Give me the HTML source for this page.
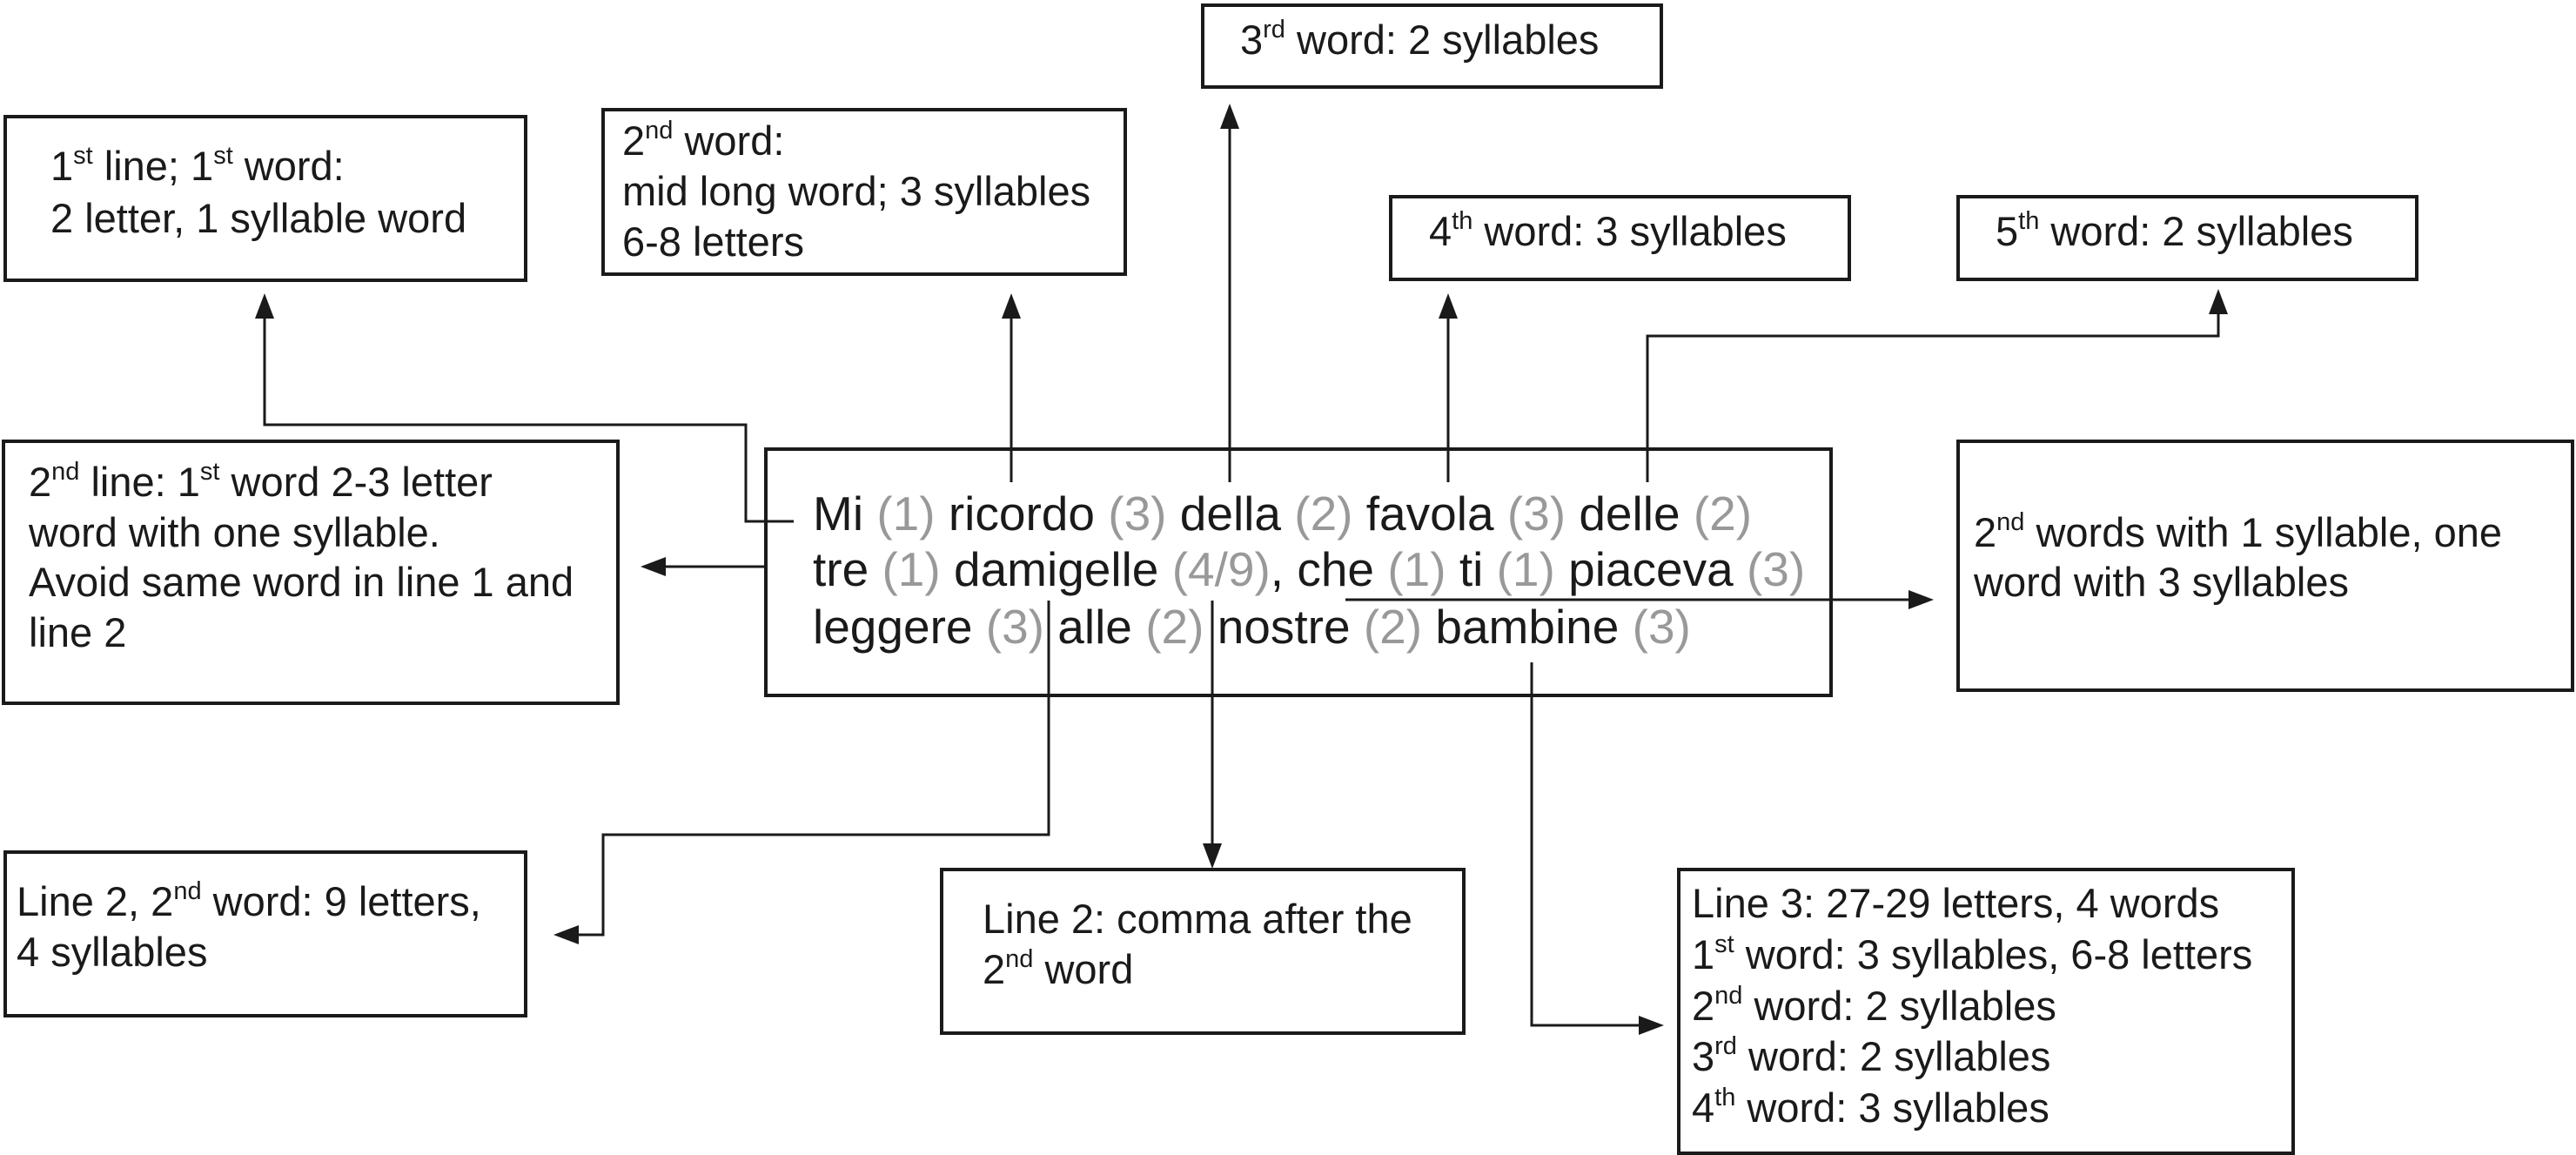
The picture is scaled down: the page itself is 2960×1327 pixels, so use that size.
<!DOCTYPE html>
<html><head><meta charset="utf-8"><style>html,body{margin:0;padding:0;background:#fff}svg{display:block}text{font-family:"Liberation Sans",sans-serif;fill:#1a1a1a}</style></head><body>
<svg width="2960" height="1327" viewBox="0 0 2960 1327" xmlns="http://www.w3.org/2000/svg">
<g fill="none" stroke="#1a1a1a" stroke-width="4">
<rect x="6" y="134" width="598" height="188"/>
<rect x="693" y="126" width="600" height="189"/>
<rect x="1382" y="6" width="527" height="94"/>
<rect x="1598" y="226" width="527" height="95"/>
<rect x="2250" y="226" width="527" height="95"/>
<rect x="4" y="507" width="706" height="301"/>
<rect x="880" y="516" width="1224" height="283"/>
<rect x="2250" y="507" width="706" height="286"/>
<rect x="6" y="979" width="598" height="188"/>
<rect x="1082" y="999" width="600" height="188"/>
<rect x="1929" y="999" width="706" height="326"/>
</g>
<g fill="none" stroke="#1a1a1a" stroke-width="3">
<polyline points="912,599 857,599 857,488 304,488 304,360"/>
<line x1="1162" y1="554" x2="1162" y2="360"/>
<line x1="1413" y1="554" x2="1413" y2="142"/>
<line x1="1664" y1="554" x2="1664" y2="360"/>
<polyline points="1893,554 1893,386 2549,386 2549,355"/>
<line x1="880" y1="651" x2="760" y2="651"/>
<line x1="1546" y1="689" x2="2198" y2="689"/>
<polyline points="1205,690 1205,959 693,959 693,1074 660,1074"/>
<line x1="1393" y1="690" x2="1393" y2="975"/>
<polyline points="1760,761 1760,1178 1888,1178"/>
</g>
<g fill="#1a1a1a">
<polygon points="304,337 293,366 315,366"/>
<polygon points="1162,337 1151,366 1173,366"/>
<polygon points="1413,119 1402,148 1424,148"/>
<polygon points="1664,337 1653,366 1675,366"/>
<polygon points="2549,332 2538,361 2560,361"/>
<polygon points="736,651 765,640 765,662"/>
<polygon points="2222,689 2193,678 2193,700"/>
<polygon points="636,1074 665,1063 665,1085"/>
<polygon points="1393,998 1382,969 1404,969"/>
<polygon points="1912,1178 1883,1167 1883,1189"/>
</g>
<g font-size="47">
<text x="58" y="207">1<tspan font-size="29" dy="-19">st</tspan><tspan dy="19"> line; 1</tspan><tspan font-size="29" dy="-19">st</tspan><tspan dy="19"> word:</tspan></text>
<text x="58" y="267">2 letter, 1 syllable word</text>
<text x="715" y="178">2<tspan font-size="29" dy="-19">nd</tspan><tspan dy="19"> word:</tspan></text>
<text x="715" y="236">mid long word; 3 syllables</text>
<text x="715" y="294">6-8 letters</text>
<text x="1425" y="62">3<tspan font-size="29" dy="-19">rd</tspan><tspan dy="19"> word: 2 syllables</tspan></text>
<text x="1642" y="282">4<tspan font-size="29" dy="-19">th</tspan><tspan dy="19"> word: 3 syllables</tspan></text>
<text x="2293" y="282">5<tspan font-size="29" dy="-19">th</tspan><tspan dy="19"> word: 2 syllables</tspan></text>
<text x="33" y="570">2<tspan font-size="29" dy="-19">nd</tspan><tspan dy="19"> line: 1</tspan><tspan font-size="29" dy="-19">st</tspan><tspan dy="19"> word 2-3 letter</tspan></text>
<text x="33" y="628">word with one syllable.</text>
<text x="33" y="685">Avoid same word in line 1 and</text>
<text x="33" y="743">line 2</text>
<text x="2268" y="628">2<tspan font-size="29" dy="-19">nd</tspan><tspan dy="19"> words with 1 syllable, one</tspan></text>
<text x="2268" y="685">word with 3 syllables</text>
<text x="19" y="1052">Line 2, 2<tspan font-size="29" dy="-19">nd</tspan><tspan dy="19"> word: 9 letters,</tspan></text>
<text x="19" y="1110">4 syllables</text>
<text x="1129" y="1072">Line 2: comma after the</text>
<text x="1129" y="1130">2<tspan font-size="29" dy="-19">nd</tspan><tspan dy="19"> word</tspan></text>
<text x="1944" y="1054">Line 3: 27-29 letters, 4 words</text>
<text x="1944" y="1113">1<tspan font-size="29" dy="-19">st</tspan><tspan dy="19"> word: 3 syllables, 6-8 letters</tspan></text>
<text x="1944" y="1172">2<tspan font-size="29" dy="-19">nd</tspan><tspan dy="19"> word: 2 syllables</tspan></text>
<text x="1944" y="1230">3<tspan font-size="29" dy="-19">rd</tspan><tspan dy="19"> word: 2 syllables</tspan></text>
<text x="1944" y="1289">4<tspan font-size="29" dy="-19">th</tspan><tspan dy="19"> word: 3 syllables</tspan></text>
</g>
<g font-size="55">
<text x="934" y="609">Mi <tspan fill="#999">(1)</tspan> ricordo <tspan fill="#999">(3)</tspan> della <tspan fill="#999">(2)</tspan> favola <tspan fill="#999">(3)</tspan> delle <tspan fill="#999">(2)</tspan></text>
<text x="934" y="673">tre <tspan fill="#999">(1)</tspan> damigelle <tspan fill="#999">(4/9)</tspan>, che <tspan fill="#999">(1)</tspan> ti <tspan fill="#999">(1)</tspan> piaceva <tspan fill="#999">(3)</tspan></text>
<text x="934" y="739">leggere <tspan fill="#999">(3)</tspan> alle <tspan fill="#999">(2)</tspan> nostre <tspan fill="#999">(2)</tspan> bambine <tspan fill="#999">(3)</tspan></text>
</g>
</svg>
</body></html>
